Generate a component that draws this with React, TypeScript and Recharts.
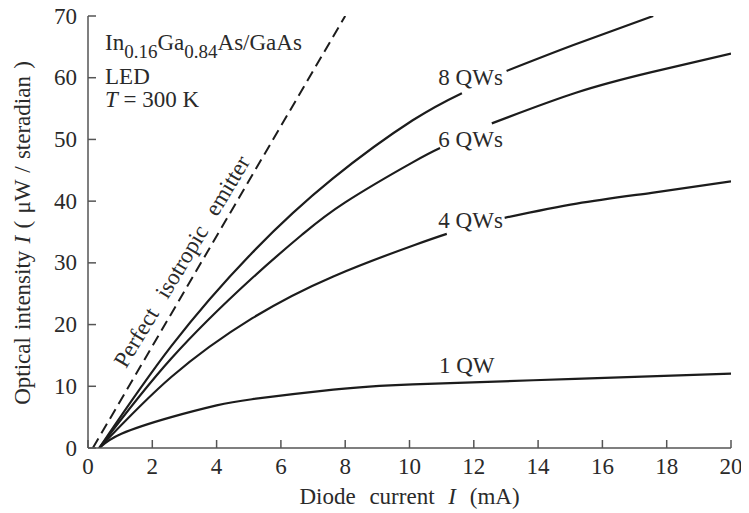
import React from 'react';
import { LineChart, Line, XAxis, YAxis, ReferenceDot } from 'recharts';

const FONT = '"Liberation Serif", "Times New Roman", Times, serif';
const TEXT = '#2a2a2a';
const AXIS = '#555';
const CURVE = '#1c1c1c';

const xTicks = [0, 2, 4, 6, 8, 10, 12, 14, 16, 18, 20];
const yTicks = [0, 10, 20, 30, 40, 50, 60, 70];

const isotropic = [
  { x: 0.15, y: 0 },
  { x: 8.0, y: 70 },
];

const qw1 = [
  { x: 0.35, y: 0 },
  { x: 1.04, y: 2.3 },
  { x: 2.59, y: 5.0 },
  { x: 4.0, y: 6.9 },
  { x: 5.1, y: 7.9 },
  { x: 7.63, y: 9.45 },
  { x: 10.1, y: 10.3 },
  { x: 15.15, y: 11.2 },
  { x: 20, y: 12.06 },
];

const qw4 = [
  { x: 0.35, y: 0 },
  { x: 2.59, y: 11.5 },
  { x: 5.1, y: 21.0 },
  { x: 7.63, y: 27.8 },
  { x: 10.16, y: 32.9 },
  { x: 11.16, y: 34.7 },
  { x: 12.0, y: null },
  { x: 12.96, y: 37.3 },
  { x: 15.2, y: 39.6 },
  { x: 17.53, y: 41.35 },
  { x: 20, y: 43.2 },
];

const qw6 = [
  { x: 0.35, y: 0 },
  { x: 2.59, y: 14.5 },
  { x: 5.1, y: 27.5 },
  { x: 6.69, y: 34.7 },
  { x: 8.0, y: 39.8 },
  { x: 10.07, y: 46.2 },
  { x: 10.95, y: 48.6 },
  { x: 11.8, y: null },
  { x: 12.56, y: 52.6 },
  { x: 15.2, y: 57.6 },
  { x: 17.53, y: 60.9 },
  { x: 20, y: 63.9 },
];

const qw8 = [
  { x: 0.35, y: 0 },
  { x: 2.59, y: 16.5 },
  { x: 5.1, y: 31.6 },
  { x: 7.6, y: 43.6 },
  { x: 10.1, y: 53.1 },
  { x: 11.63, y: 57.5 },
  { x: 12.3, y: null },
  { x: 13.02, y: 61.1 },
  { x: 15.1, y: 65.3 },
  { x: 17.58, y: 70 },
];

const curveLabels = [
  { x: 11.9, y: 60.0, text: '8 QWs' },
  { x: 11.9, y: 50.0, text: '6 QWs' },
  { x: 11.9, y: 36.8, text: '4 QWs' },
  { x: 11.78, y: 13.3, text: '1 QW' },
];

const emitterLabel = { x: 2.92, y: 30.2, text: 'Perfect isotropic emitter', angle: -59 };
const infoLines = [
  { x: 0.53, y: 64.5, key: 'material' },
  { x: 0.53, y: 59.0, key: 'led' },
  { x: 0.53, y: 55.2, key: 'temp' },
];

const FS = 23;

const BottomTick = (p: any) => (
  <g>
    <line x1={p.x} x2={p.x} y1={p.y} y2={p.y - 8} stroke={AXIS} strokeWidth={1.5} />
    <text x={p.x} y={p.y + 26} textAnchor="middle" fontFamily={FONT} fontSize={FS} fill={TEXT}>
      {p.payload.value}
    </text>
  </g>
);
const TopTick = (p: any) => (
  <line x1={p.x} x2={p.x} y1={p.y} y2={p.y + 8} stroke={AXIS} strokeWidth={1.5} />
);
const LeftTick = (p: any) => (
  <g>
    <line x1={p.x} x2={p.x + 8} y1={p.y} y2={p.y} stroke={AXIS} strokeWidth={1.5} />
    <text x={p.x - 11} y={p.y} dy="0.33em" textAnchor="end" fontFamily={FONT} fontSize={FS} fill={TEXT}>
      {p.payload.value}
    </text>
  </g>
);
const RightTick = (p: any) => (
  <line x1={p.x} x2={p.x - 8} y1={p.y} y2={p.y} stroke={AXIS} strokeWidth={1.5} />
);

const renderInfo = (key: string) => (p: any) => {
  if (key === 'material') {
    return (
      <text x={p.cx} y={p.cy} fontFamily={FONT} fontSize={FS} fill={TEXT}>
        <tspan>In</tspan>
        <tspan dy={8} fontSize={19}>0.16</tspan>
        <tspan dy={-8}>Ga</tspan>
        <tspan dy={8} fontSize={19}>0.84</tspan>
        <tspan dy={-8}>As/GaAs</tspan>
      </text>
    );
  }
  if (key === 'led') {
    return (
      <text x={p.cx} y={p.cy} fontFamily={FONT} fontSize={FS} fill={TEXT}>LED</text>
    );
  }
  return (
    <text x={p.cx} y={p.cy} fontFamily={FONT} fontSize={FS} fill={TEXT}>
      <tspan fontStyle="italic">T</tspan>
      <tspan> = 300 K</tspan>
    </text>
  );
};

const XTitle = (props: any) => {
  const vb = props.viewBox;
  return (
    <text x={vb.x + vb.width / 2} y={vb.y + 56} textAnchor="middle" fontFamily={FONT} fontSize={FS} fill={TEXT} style={{ wordSpacing: 8 }}>
      <tspan>Diode current </tspan>
      <tspan fontStyle="italic">I</tspan>
      <tspan> (mA)</tspan>
    </text>
  );
};

const YTitle = (props: any) => {
  const vb = props.viewBox;
  const cx = 22;
  const cy = vb.y + vb.height / 2 + 1;
  return (
    <text x={cx} y={cy} transform={`rotate(-90, ${cx}, ${cy})`} textAnchor="middle" dominantBaseline="central" fontFamily={FONT} fontSize={FS} fill={TEXT} style={{ wordSpacing: 1.5 }}>
      <tspan>Optical intensity </tspan>
      <tspan fontStyle="italic">I</tspan>
      <tspan> ( μW / steradian )</tspan>
    </text>
  );
};

export default function App() {
  return (
    <div style={{ width: 749, height: 513, marginTop: -8, marginLeft: -8, background: '#fff' }}>
      <LineChart width={749} height={513} margin={{ top: 16, right: 18, bottom: 0, left: 0 }}>
        <XAxis
          xAxisId="bottom"
          dataKey="x"
          type="number"
          domain={[0, 20]}
          ticks={xTicks}
          allowDataOverflow
          orientation="bottom"
          height={65}
          tickSize={0}
          tickMargin={0}
          tickLine={false}
          axisLine={{ stroke: AXIS, strokeWidth: 1.5 }}
          tick={<BottomTick />}
          interval={0}
          label={<XTitle />}
        />
        <XAxis
          xAxisId="top"
          dataKey="x"
          type="number"
          domain={[0, 20]}
          ticks={xTicks}
          allowDataOverflow
          orientation="top"
          height={0}
          tickSize={0}
          tickMargin={0}
          tickLine={false}
          axisLine={{ stroke: AXIS, strokeWidth: 1.5 }}
          tick={<TopTick />}
          interval={0}
        />
        <YAxis
          yAxisId="left"
          type="number"
          domain={[0, 70]}
          ticks={yTicks}
          allowDataOverflow
          orientation="left"
          width={88}
          tickSize={0}
          tickMargin={0}
          tickLine={false}
          axisLine={{ stroke: AXIS, strokeWidth: 1.5 }}
          tick={<LeftTick />}
          interval={0}
          label={<YTitle />}
        />
        <YAxis
          yAxisId="right"
          type="number"
          domain={[0, 70]}
          ticks={yTicks}
          allowDataOverflow
          orientation="right"
          width={0}
          tickSize={0}
          tickMargin={0}
          tickLine={false}
          axisLine={{ stroke: AXIS, strokeWidth: 1.5 }}
          tick={<RightTick />}
          interval={0}
        />
        <Line data={isotropic} dataKey="y" xAxisId="bottom" yAxisId="left" type="linear" dot={false} stroke={CURVE} strokeWidth={2} strokeDasharray="11 6" isAnimationActive={false} />
        <Line data={qw1} dataKey="y" xAxisId="bottom" yAxisId="left" type="natural" dot={false} stroke={CURVE} strokeWidth={2.2} isAnimationActive={false} />
        <Line data={qw4} dataKey="y" xAxisId="bottom" yAxisId="left" type="natural" dot={false} stroke={CURVE} strokeWidth={2.2} isAnimationActive={false} connectNulls={false} />
        <Line data={qw6} dataKey="y" xAxisId="bottom" yAxisId="left" type="natural" dot={false} stroke={CURVE} strokeWidth={2.2} isAnimationActive={false} connectNulls={false} />
        <Line data={qw8} dataKey="y" xAxisId="bottom" yAxisId="left" type="natural" dot={false} stroke={CURVE} strokeWidth={2.2} isAnimationActive={false} connectNulls={false} />
        {curveLabels.map((l) => (
          <ReferenceDot
            key={l.text}
            x={l.x}
            y={l.y}
            r={0}
            xAxisId="bottom"
            yAxisId="left"
            ifOverflow="visible"
            shape={(p: any) => (
              <text x={p.cx} y={p.cy} textAnchor="middle" dominantBaseline="central" fontFamily={FONT} fontSize={FS} fill={TEXT}>
                {l.text}
              </text>
            )}
          />
        ))}
        <ReferenceDot
          x={emitterLabel.x}
          y={emitterLabel.y}
          r={0}
          xAxisId="bottom"
          yAxisId="left"
          ifOverflow="visible"
          shape={(p: any) => (
            <text
              x={p.cx}
              y={p.cy}
              transform={`rotate(${emitterLabel.angle}, ${p.cx}, ${p.cy})`}
              textAnchor="middle"
              dominantBaseline="central"
              fontFamily={FONT}
              fontSize={FS}
              fill={TEXT}
              style={{ wordSpacing: 10 }}
            >
              {emitterLabel.text}
            </text>
          )}
        />
        {infoLines.map((l) => (
          <ReferenceDot
            key={l.key}
            x={l.x}
            y={l.y}
            r={0}
            xAxisId="bottom"
            yAxisId="left"
            ifOverflow="visible"
            shape={renderInfo(l.key)}
          />
        ))}
      </LineChart>
    </div>
  );
}
